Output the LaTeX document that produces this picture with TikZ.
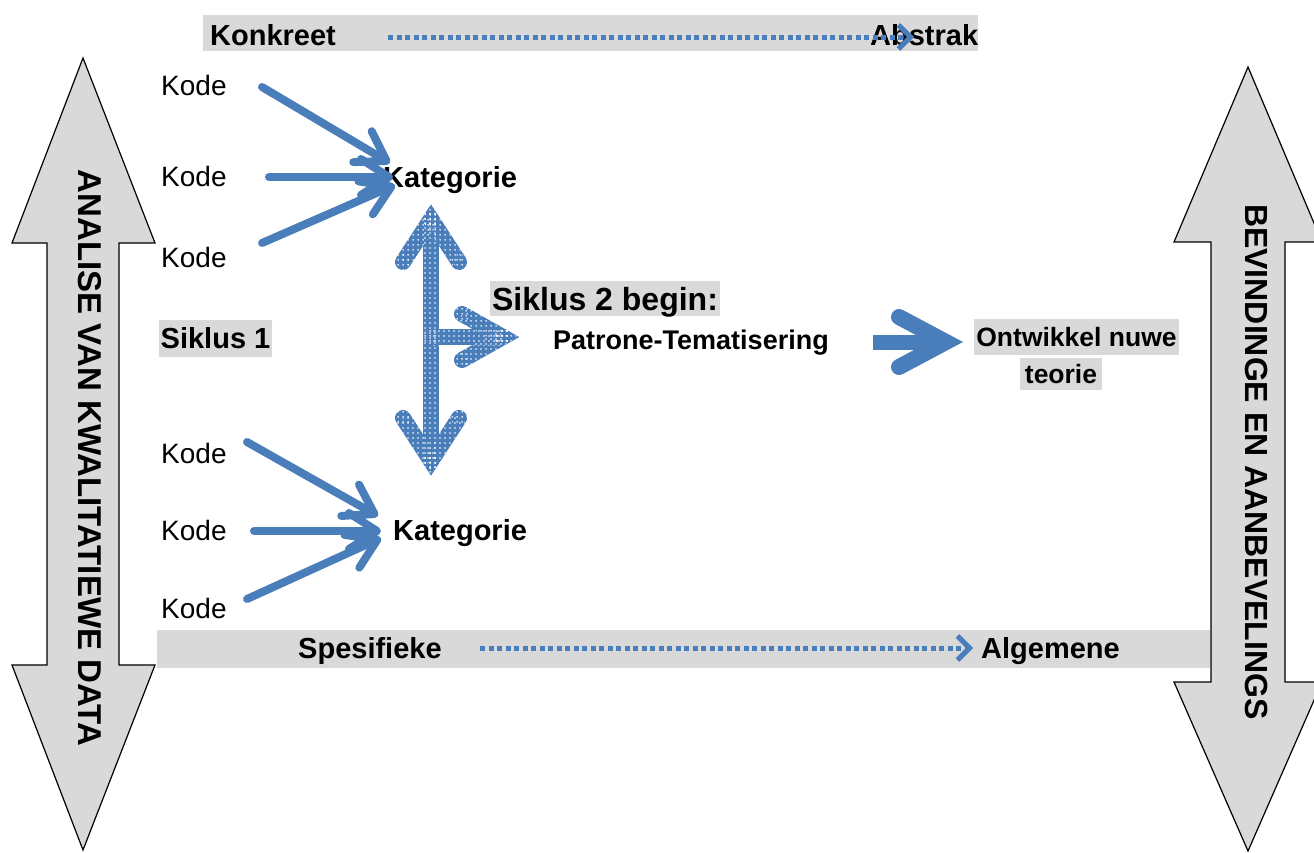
\documentclass[tikz,border=0pt]{standalone}
\usepackage{fontspec}
\setmainfont{Liberation Sans}
\usetikzlibrary{arrows.meta,calc,patterns}
\definecolor{arrowblue}{RGB}{74,126,187}
\definecolor{panelgray}{RGB}{217,217,217}
% white dot grid laid over the blue fill of the cycle arrow
\pgfdeclarepatternformonly{whitedots}{\pgfqpoint{0pt}{0pt}}{\pgfqpoint{4.5pt}{4.5pt}}{\pgfqpoint{4.5pt}{4.5pt}}%
  {\pgfpathcircle{\pgfqpoint{2.25pt}{2.25pt}}{0.95pt}\pgfusepath{fill}}
\newcommand\fsz[1]{\fontsize{#1}{#1}\selectfont}
% dotted band of width 16pt between two points, with round ends
\newcommand\dotseg[2]{%
  \fill[pattern=whitedots, pattern color=white]
    ($(#1)!8pt!90:(#2)$) -- ($(#2)!8pt!-90:(#1)$) -- ($(#2)!8pt!90:(#1)$) -- ($(#1)!8pt!-90:(#2)$) -- cycle;
  \fill[pattern=whitedots, pattern color=white] (#1) circle (8pt);
  \fill[pattern=whitedots, pattern color=white] (#2) circle (8pt);}
\begin{document}
\begin{tikzpicture}[x=1pt,y=-1pt,
  txt/.style={inner sep=0pt, anchor=west},
  r28/.style={font=\fsz{28}, text height=24.08pt, text depth=3.92pt},
  b29/.style={font=\bfseries\fsz{29}, text height=24.94pt, text depth=4.06pt},
  b27/.style={font=\bfseries\fsz{27}, text height=23.22pt, text depth=3.78pt},
  b32/.style={font=\bfseries\fsz{32}, text height=27.52pt, text depth=4.48pt},
  b33/.style={font=\bfseries\fsz{33}, text height=28.38pt, text depth=4.62pt},
  b26/.style={font=\bfseries\fsz{26.5}, text height=22.79pt, text depth=3.71pt},
  hl/.style={fill=panelgray, inner xsep=2pt, inner ysep=0pt},
  sidearrow/.style={fill=panelgray, draw=black, line width=1.2pt, line join=miter},
  sidetext/.style={rotate=-90, inner sep=0pt},
  kodeline/.style={draw=arrowblue, line width=8pt, line cap=round,
    -{Straight Barb[length=28pt, width=36pt, round]}},
  spanline/.style={draw=arrowblue, line width=5pt, dash pattern=on 5pt off 3.5pt,
    -{Straight Barb[length=12pt, width=24pt]}},
  cyclearm/.style={draw=arrowblue, line width=16pt, line cap=round, line join=miter},
]
\clip (0,0) rectangle (1314,852);

% grey bands at top and bottom
\fill[panelgray] (203,15) rectangle (978,51);
\fill[panelgray] (157,630) rectangle (1210,668);

% vertical double arrows at the sides
\draw[sidearrow] (83,58) -- (155,243) -- (119,243) -- (119,665) -- (155,665) -- (83,850)
  -- (12,665) -- (47,665) -- (47,243) -- (12,243) -- cycle;
\draw[sidearrow] (1248,67) -- (1322,242) -- (1285,242) -- (1285,682) -- (1322,682) -- (1248,851)
  -- (1174,682) -- (1211,682) -- (1211,242) -- (1174,242) -- cycle;
\node[sidetext, b33] (analise) at (90,458) {ANALISE VAN KWALITATIEWE DATA};
\node[sidetext, b32] (bevind) at (1257,462) {BEVINDINGE EN AANBEVELINGS};

% labels
\node[txt, b29] (konk) at (210,35) {Konkreet};
\node[txt, b29] (abstr) at (870,35) {Abstrak};
\node[txt, b29] (spes) at (298,648) {Spesifieke};
\node[txt, b29] (alg) at (981,648) {Algemene};

\node[txt, r28] (k1) at (161,85) {Kode};
\node[txt, r28] (k2) at (161,176) {Kode};
\node[txt, r28] (k3) at (161,257) {Kode};
\node[txt, r28] (k4) at (161,453) {Kode};
\node[txt, r28] (k5) at (161,530) {Kode};
\node[txt, r28] (k6) at (161,608) {Kode};
\node[txt, b29] (kat1) at (383,177) {Kategorie};
\node[txt, b29] (kat2) at (393,530) {Kategorie};

\node[hl, b29, minimum height=37pt, minimum width=113pt] (sik1) at (215.5,338.5) {Siklus 1};
\node[hl, b32, minimum height=35pt, minimum width=230pt] (sik2) at (605,298.5) {Siklus 2 begin:};
\node[txt, b27] (pat) at (553,340) {Patrone-Tematisering};
\node[hl, b26, minimum height=36pt, minimum width=203pt] (ont) at (1076.5,337) {Ontwikkel nuwe};
\node[hl, b26, minimum height=32pt, minimum width=82pt] (teo) at (1061,374) {teorie};

% dotted direction arrows in the bands
\coordinate (konkS) at (388,37);
\coordinate (abstrE) at (914,37);
\draw[spanline] (konkS) -- (abstrE);
\coordinate (spesS) at (480,648);
\coordinate (algE) at (973,648);
\draw[spanline] (spesS) -- (algE);

% codes feeding the categories
\coordinate (a1s) at (262,87);  \coordinate (a1e) at (390,163);
\coordinate (a2s) at (269,177); \coordinate (a2e) at (393,177);
\coordinate (a3s) at (262,243); \coordinate (a3e) at (395,185);
\coordinate (b1s) at (247,442); \coordinate (b1e) at (378,516);
\coordinate (b2s) at (254,531); \coordinate (b2e) at (381,531);
\coordinate (b3s) at (247,599); \coordinate (b3e) at (381,538);
\foreach \s/\e in {a1s/a1e,a2s/a2e,a3s/a3e,b1s/b1e,b2s/b2e,b3s/b3e}
  \draw[kodeline] (\s) -- (\e);

% dotted cycle arrow between the categories
\coordinate (vt) at (431,219);
\coordinate (vb) at (431,461);
\coordinate (vr) at (503,337);
\coordinate (vm) at (431,337);
\coordinate (t1) at (403,262); \coordinate (t2) at (459,262);
\coordinate (b1) at (403,418); \coordinate (b2) at (459,418);
\coordinate (r1) at (462,314); \coordinate (r2) at (462,360);
\draw[cyclearm] (t1) -- (vt) -- (t2);
\draw[cyclearm] (vt) -- (vb);
\draw[cyclearm] (b1) -- (vb) -- (b2);
\draw[cyclearm] (vm) -- (vr);
\draw[cyclearm] (r1) -- (vr) -- (r2);
\dotseg{t1}{vt}\dotseg{t2}{vt}\dotseg{vt}{vb}
\dotseg{b1}{vb}\dotseg{b2}{vb}\dotseg{vm}{vr}
\dotseg{r1}{vr}\dotseg{r2}{vr}
\fill[pattern=whitedots, pattern color=white] (431,204.3) -- (424.3,214.6) -- (vt) -- (437.7,214.6) -- cycle;
\fill[pattern=whitedots, pattern color=white] (431,475.7) -- (424.3,465.4) -- (vb) -- (437.7,465.4) -- cycle;
\fill[pattern=whitedots, pattern color=white] (519.4,337) -- (506.9,330) -- (vr) -- (506.9,344) -- cycle;

% arrow towards the new theory
\coordinate (bs) at (873,342);
\coordinate (bv) at (946,342);
\coordinate (bu) at (899,317);
\coordinate (bl) at (899,367);
\draw[draw=arrowblue, line width=15pt] (bs) -- (bv);
\draw[draw=arrowblue, line width=16pt, line cap=round, line join=miter, miter limit=20] (bu) -- (bv) -- (bl);
\end{tikzpicture}
\end{document}
